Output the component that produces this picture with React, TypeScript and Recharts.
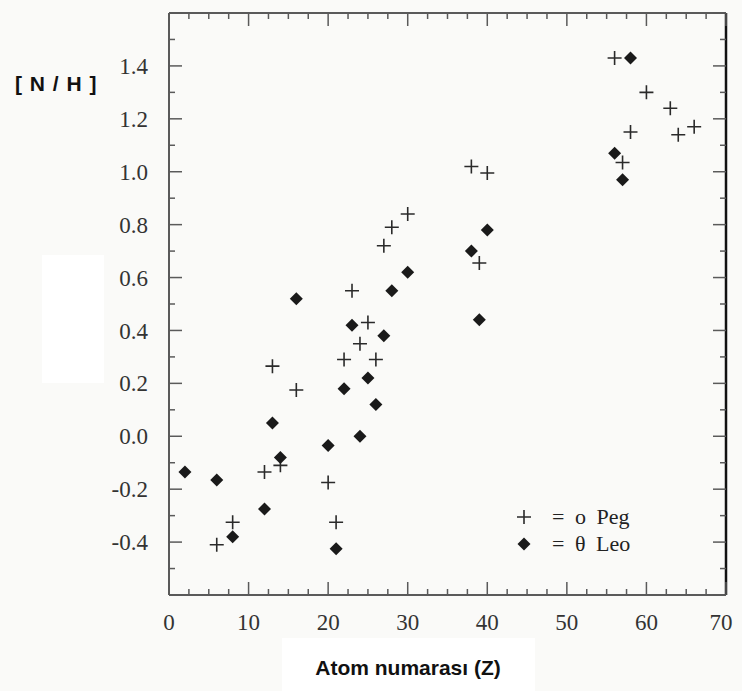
import { ScatterChart, Scatter, XAxis, YAxis } from "recharts";

// atomic number Z and [N/H]
const pegZ = [6, 8, 12, 13, 14, 16, 20, 21, 22, 23, 24, 25, 26, 27, 28, 30, 38, 39, 40, 56, 57, 58, 60, 63, 64, 66];
const pegNH = [-0.41, -0.325, -0.135, 0.265, -0.11, 0.175, -0.175, -0.325, 0.29, 0.55, 0.35, 0.43, 0.29, 0.72, 0.79, 0.84, 1.02, 0.655, 0.995, 1.43, 1.035, 1.15, 1.3, 1.24, 1.14, 1.17];

const leoZ = [2, 6, 8, 12, 13, 14, 16, 20, 21, 22, 23, 24, 25, 26, 27, 28, 30, 38, 39, 40, 56, 57, 58];
const leoNH = [-0.135, -0.165, -0.38, -0.275, 0.05, -0.08, 0.52, -0.035, -0.425, 0.18, 0.42, 0.0, 0.22, 0.12, 0.38, 0.55, 0.62, 0.7, 0.44, 0.78, 1.07, 0.97, 1.43];

const xTicks = [0, 2.5, 5, 7.5, 10, 12.5, 15, 17.5, 20, 22.5, 25, 27.5, 30, 32.5, 35, 37.5, 40, 42.5, 45, 47.5, 50, 52.5, 55, 57.5, 60, 62.5, 65, 67.5, 70];
const xLabels = [0, 10, 20, 30, 40, 50, 60, 70];
const yTicks = [-0.6, -0.5, -0.4, -0.3, -0.2, -0.1, 0, 0.1, 0.2, 0.3, 0.4, 0.5, 0.6, 0.7, 0.8, 0.9, 1.0, 1.1, 1.2, 1.3, 1.4, 1.5, 1.6];
const yLabels = [-0.4, -0.2, 0, 0.2, 0.4, 0.6, 0.8, 1.0, 1.2, 1.4];

const seriesNames = ["= o Peg", "= θ Leo"];

const pegData = pegZ.map((z, i) => ({ z, v: pegNH[i] }));
const leoData = leoZ.map((z, i) => ({ z, v: leoNH[i] }));

const AXIS = "#5a5a5a";
const INK = "#1a1a1a";
const SERIF = "'Liberation Serif', 'Times New Roman', serif";
const SANS = "'Liberation Sans', Arial, sans-serif";

const isMajorX = (v: number) => v % 10 === 0;
const isMajorY = (v: number) => Math.round(v * 10) % 2 === 0;
const hasY = (v: number) => yLabels.some(l => Math.abs(l - v) < 1e-6);

function Plus({ cx, cy }: any) {
  return (
    <path
      d={`M${cx - 7},${cy}H${cx + 7}M${cx},${cy - 7}V${cy + 7}`}
      stroke="#2a2a2a"
      strokeWidth={1.6}
      fill="none"
    />
  );
}

function Diamond({ cx, cy }: any) {
  return (
    <path
      d={`M${cx - 6.5},${cy}L${cx},${cy - 6.5}L${cx + 6.5},${cy}L${cx},${cy + 6.5}Z`}
      fill={INK}
    />
  );
}

const labelStyle = { fontFamily: SERIF, fontSize: 23 };

function BottomTick({ x, y, payload }: any) {
  const v = payload.value;
  const major = isMajorX(v);
  // the last label sits a little inside the frame in the original
  const dx = v === 70 ? -5 : 0;
  return (
    <g>
      <line x1={x} x2={x} y1={y} y2={y - (major ? 13 : 6)} stroke={AXIS} strokeWidth={1.5} />
      {xLabels.includes(v) && (
        <text x={x + dx} y={y + 27} dy="0.35em" textAnchor="middle" style={labelStyle} fill="#333">
          {v}
        </text>
      )}
    </g>
  );
}

function TopTick({ x, y, payload }: any) {
  const major = isMajorX(payload.value);
  return <line x1={x} x2={x} y1={y} y2={y + (major ? 13 : 6)} stroke={AXIS} strokeWidth={1.5} />;
}

function LeftTick({ x, y, payload }: any) {
  const v = payload.value;
  const major = isMajorY(v);
  return (
    <g>
      <line x1={x} x2={x + (major ? 13 : 6)} y1={y} y2={y} stroke={AXIS} strokeWidth={1.5} />
      {hasY(v) && (
        <text x={x - 21} y={y} dy="0.35em" textAnchor="end" style={labelStyle} fill="#333">
          {v.toFixed(1)}
        </text>
      )}
    </g>
  );
}

function RightTick({ x, y, payload }: any) {
  const major = isMajorY(payload.value);
  return <line x1={x} x2={x - (major ? 13 : 6)} y1={y} y2={y} stroke={AXIS} strokeWidth={1.5} />;
}

export default function App() {
  return (
    <div style={{ position: "absolute", left: 0, top: 0, width: 742, height: 691, background: "#fafaf8", overflow: "hidden" }}>
      <div style={{ position: "absolute", left: 42, top: 255, width: 62, height: 128, background: "#fff" }} />
      <div style={{ position: "absolute", left: 282, top: 638, width: 253, height: 53, background: "#fff" }} />

      <div style={{ position: "absolute", left: 0, top: 0 }}>
        <ScatterChart width={742} height={691} margin={{ top: 11, right: 10, bottom: 46, left: 100 }}>
          <XAxis
            xAxisId="b"
            type="number"
            dataKey="z"
            domain={[0, 70]}
            ticks={xTicks}
            interval={0}
            allowDataOverflow
            height={50}
            tickSize={0}
            tickMargin={0}
            tickLine={false}
            tick={BottomTick}
            axisLine={{ stroke: AXIS, strokeWidth: 2 }}
          />
          <XAxis
            xAxisId="t"
            orientation="top"
            type="number"
            dataKey="z"
            domain={[0, 70]}
            ticks={xTicks}
            interval={0}
            allowDataOverflow
            height={2}
            tickSize={0}
            tickMargin={0}
            tickLine={false}
            tick={TopTick}
            axisLine={{ stroke: AXIS, strokeWidth: 2 }}
          />
          <YAxis
            yAxisId="l"
            type="number"
            dataKey="v"
            domain={[-0.6, 1.6]}
            ticks={yTicks}
            interval={0}
            allowDataOverflow
            width={69}
            tickSize={0}
            tickMargin={0}
            tickLine={false}
            tick={LeftTick}
            axisLine={{ stroke: AXIS, strokeWidth: 2 }}
          />
          <YAxis
            yAxisId="r"
            orientation="right"
            type="number"
            dataKey="v"
            domain={[-0.6, 1.6]}
            ticks={yTicks}
            interval={0}
            allowDataOverflow
            width={6}
            tickSize={0}
            tickMargin={0}
            tickLine={false}
            tick={RightTick}
            axisLine={{ stroke: "#111", strokeWidth: 2.5 }}
          />
          <Scatter
            name={seriesNames[0]}
            data={pegData}
            xAxisId="b"
            yAxisId="l"
            shape={Plus}
            isAnimationActive={false}
          />
          <Scatter
            name={seriesNames[1]}
            data={leoData}
            xAxisId="t"
            yAxisId="r"
            shape={Diamond}
            isAnimationActive={false}
          />
        </ScatterChart>
      </div>

      {/* legend inside the plot, lower right */}
      <div style={{ position: "absolute", left: 514, top: 503, fontFamily: SERIF, fontSize: 22, color: "#222", lineHeight: "27px" }}>
        {seriesNames.map((n, i) => (
          <div key={n} style={{ display: "flex", alignItems: "center", height: 27 }}>
            <svg width={20} height={20} style={{ marginRight: 18 }}>
              {i === 0 ? <Plus cx={10} cy={10} /> : <Diamond cx={10} cy={10} />}
            </svg>
            <span style={{ wordSpacing: 5 }}>{n}</span>
          </div>
        ))}
      </div>

      <div style={{ position: "absolute", left: 15, top: 72, fontFamily: SANS, fontWeight: 700, fontSize: 21, letterSpacing: 1, color: "#111", whiteSpace: "pre" }}>
        [ N / H ]
      </div>
      <div style={{ position: "absolute", left: 308, width: 200, top: 656, textAlign: "center", fontFamily: SANS, fontWeight: 700, fontSize: 21, color: "#111", whiteSpace: "nowrap" }}>
        Atom numarası (Z)
      </div>
    </div>
  );
}
